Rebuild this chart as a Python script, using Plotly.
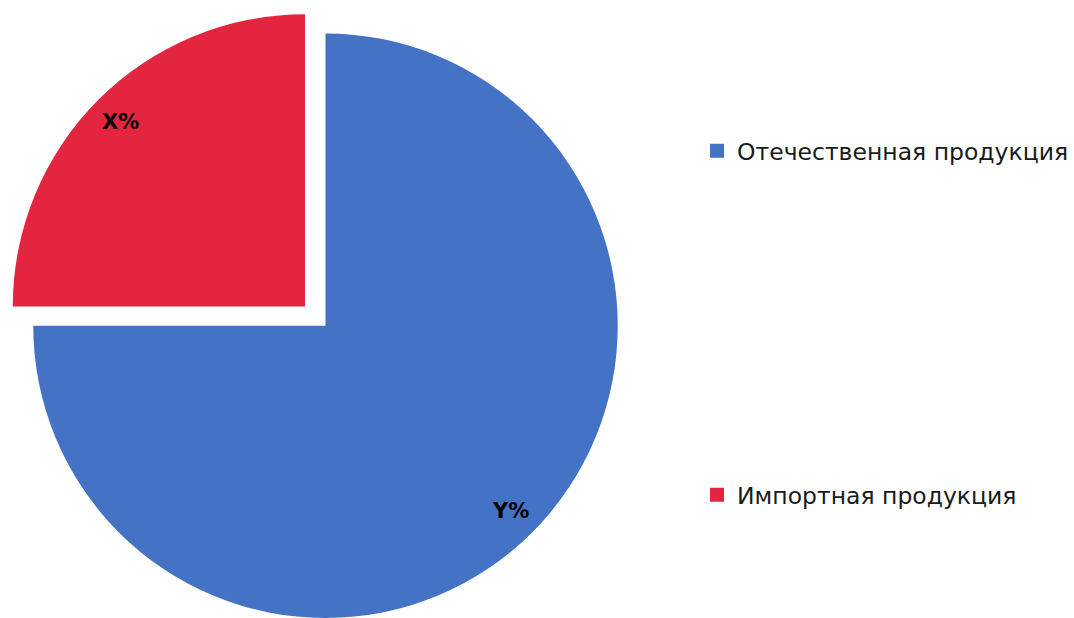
import math
import plotly.graph_objects as go

# ---- data ----
categories = ["Отечественная продукция", "Импортная продукция"]
values = [75, 25]
slice_labels = ["Y%", "X%"]
colors = ["#4472C4", "#E42540"]

# ---- layout constants (pixels) ----
W, H = 1074, 618
FONT = "DejaVu Sans"
TRANSPARENT = "rgba(0,0,0,0)"
R = 292.25
centers = [(325.5, 325.75), (305.0, 306.5)]  # blue slice pie centre, pulled red slice centre
LABEL_RADIUS = 0.895


def domain_for(cx, cy, r):
    x0 = (cx - r) / W
    x1 = (cx + r) / W
    y0 = 1 - (cy + r) / H
    y1 = 1 - (cy - r) / H
    return dict(x=[max(0.0, x0), min(1.0, x1)], y=[max(0.0, y0), min(1.0, y1)])


fig = go.Figure()
total = sum(values)

# one pie per slice so the second slice can be pulled out like the reference
for i, (cx, cy) in enumerate(centers):
    slice_colors = [colors[j] if j == i else TRANSPARENT for j in range(len(values))]
    fig.add_trace(go.Pie(
        labels=categories,
        values=values,
        sort=False,
        direction="clockwise",
        rotation=0,
        marker=dict(colors=slice_colors, line=dict(width=0)),
        textinfo="none",
        hoverinfo="label+percent" if i == 0 else "skip",
        showlegend=False,
        domain=domain_for(cx, cy, R),
    ))

# labels inside slices, placed from the slice mid-angle
annotations = []
cum = 0
for i, v in enumerate(values):
    mid = math.radians(90 - (cum + v / 2) / total * 360)
    cx, cy = centers[i]
    px = cx + LABEL_RADIUS * R * math.cos(mid)
    py = cy - LABEL_RADIUS * R * math.sin(mid)
    annotations.append(dict(
        x=px / W, y=1 - py / H, xref="paper", yref="paper",
        text=f"<b>{slice_labels[i]}</b>", showarrow=False,
        font=dict(family=FONT, size=21, color="#000000"),
        xanchor="center", yanchor="middle",
    ))
    cum += v

# legend entries (one legend per category so they can be spaced apart)
legend_names = ["legend", "legend2"]
for i, cat in enumerate(categories):
    fig.add_trace(go.Scatter(
        x=[None], y=[None], mode="markers", name=cat,
        marker=dict(symbol="square", size=14, color=colors[i]),
        legend=legend_names[i], hoverinfo="skip",
    ))

legend_style = dict(
    xanchor="left", yanchor="middle",
    font=dict(family=FONT, size=23.5, color="#1a1a1a"),
    bgcolor="rgba(0,0,0,0)", borderwidth=0, itemwidth=30,
)

fig.update_layout(
    width=W, height=H,
    margin=dict(l=0, r=0, t=0, b=0),
    paper_bgcolor="white", plot_bgcolor="white",
    xaxis=dict(visible=False), yaxis=dict(visible=False),
    annotations=annotations,
    legend=dict(x=697 / W, y=1 - 151 / H, **legend_style),
    legend2=dict(x=697 / W, y=1 - 495 / H, **legend_style),
)

fig.write_html(
    "out.html",
    config={"displayModeBar": False},
    post_script="document.documentElement.style.margin='0';"
                "document.body.style.margin='0';"
                "document.body.style.overflow='hidden';",
)
